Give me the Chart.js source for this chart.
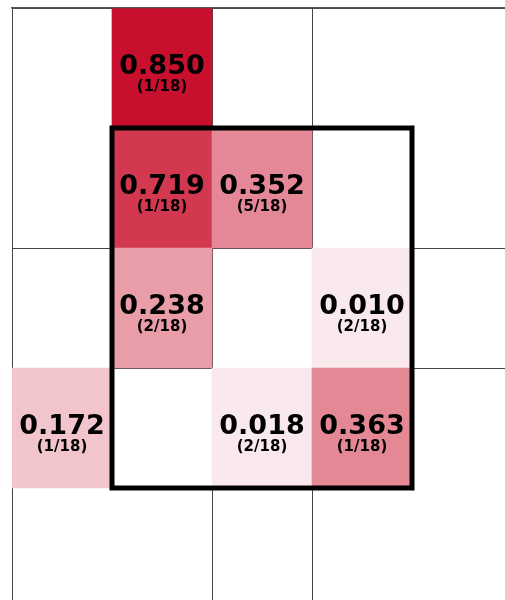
<!DOCTYPE html>
<html>
<head>
<meta charset="utf-8">
<script src="https://cdn.jsdelivr.net/npm/chart.js@4"></script>
<style>
  html, body { margin: 0; padding: 0; background: #fff; overflow: hidden; }
  #wrap { width: 505px; height: 600px; overflow: hidden; }
</style>
</head>
<body>
<div id="wrap"><canvas id="chart" width="512" height="608"></canvas></div>
<script>
// cells of the grid (column, row), with value, count and fill
const cellCols   = [1, 1, 2, 1, 3, 0, 2, 3];
const cellRows   = [0, 1, 1, 2, 2, 3, 3, 3];
const cellValues = [0.850, 0.719, 0.352, 0.238, 0.010, 0.172, 0.018, 0.363];
const cellCounts = [1, 1, 5, 2, 2, 1, 2, 1];
const total = 18;
const cellColors = ['#c8102e', '#d2384f', '#e48796', '#e99da8', '#f9e9ec', '#f2c4cc', '#f9e9ec', '#e48896'];

// grid lines and highlighted block, in grid units
const gridTicks = [0, 2, 3, 5];
const boxFrom = [1, 1];
const boxTo = [4, 4];

const fuente = '"DejaVu Sans", sans-serif';

const etiquetas = {
  id: 'etiquetas',
  afterDraw(chart) {
    const { ctx, scales: { x, y } } = chart;
    ctx.save();
    // bloque resaltado
    const x0 = x.getPixelForValue(boxFrom[0]);
    const x1 = x.getPixelForValue(boxTo[0]);
    const y0 = y.getPixelForValue(boxFrom[1]);
    const y1 = y.getPixelForValue(boxTo[1]);
    ctx.lineWidth = 5;
    ctx.lineJoin = 'miter';
    ctx.strokeStyle = '#000';
    ctx.strokeRect(x0, y0, x1 - x0, y1 - y0);

    ctx.fillStyle = '#000';
    ctx.textAlign = 'center';
    ctx.textBaseline = 'middle';
    cellValues.forEach((v, i) => {
      const cx = x.getPixelForValue(cellCols[i] + 0.5);
      const cy = y.getPixelForValue(cellRows[i] + 0.5);
      ctx.font = 'bold 27px ' + fuente;
      ctx.fillText(v.toFixed(3), cx, cy - 1);
      ctx.font = 'bold 15px ' + fuente;
      ctx.fillText('(' + cellCounts[i] + '/' + total + ')', cx, cy + 19);
    });
    ctx.restore();
  }
};

const fijarTicks = (scale) => {
  scale.ticks = gridTicks.map(v => ({ value: v }));
};

new Chart(document.getElementById('chart'), {
  type: 'bar',
  data: {
    datasets: [{
      data: cellValues.map((v, i) => ({ x: cellCols[i] + 0.5, y: [cellRows[i], cellRows[i] + 1] })),
      backgroundColor: cellColors,
      borderWidth: 0,
      barPercentage: 1,
      categoryPercentage: 1
    }]
  },
  options: {
    responsive: false,
    animation: false,
    layout: { padding: { left: 12, top: 8, right: 0, bottom: 0 } },
    plugins: { legend: { display: false }, tooltip: { enabled: false } },
    scales: {
      x: {
        type: 'linear',
        position: 'top',
        offset: false,
        min: 0,
        max: 5,
        z: 1,
        afterBuildTicks: fijarTicks,
        ticks: { display: false },
        grid: { color: '#444', lineWidth: 1, drawTicks: false, offset: false },
        border: { color: '#555', width: 1.5 }
      },
      y: {
        type: 'linear',
        reverse: true,
        min: 0,
        max: 5,
        z: 1,
        afterBuildTicks: fijarTicks,
        ticks: { display: false },
        grid: { color: '#444', lineWidth: 1, drawTicks: false },
        border: { color: '#444', width: 1 }
      }
    }
  },
  plugins: [etiquetas]
});
</script>
</body>
</html>
